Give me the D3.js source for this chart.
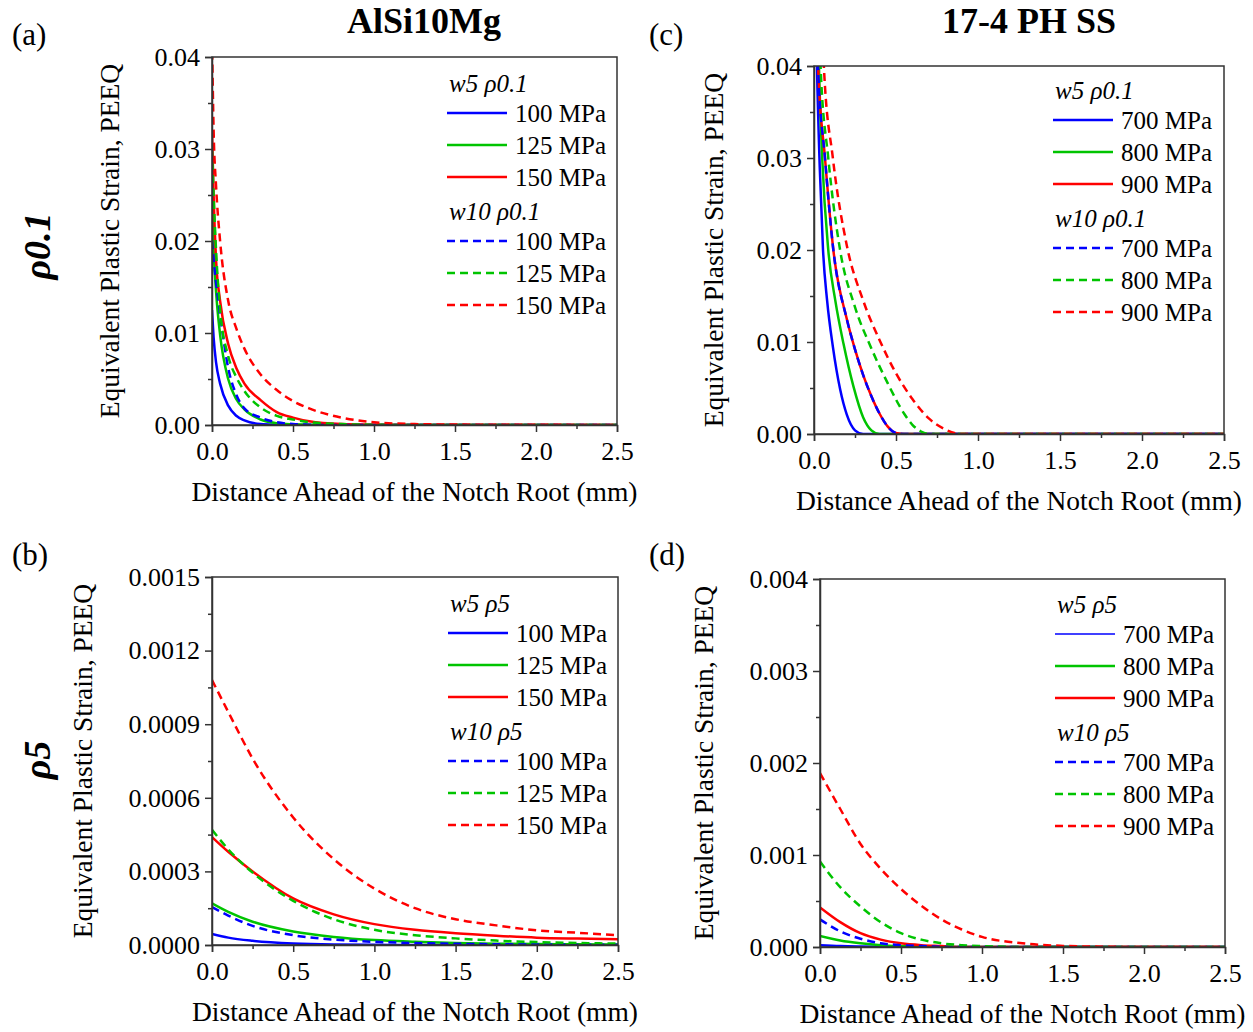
<!DOCTYPE html>
<html>
<head>
<meta charset="utf-8">
<script src="https://cdn.jsdelivr.net/npm/d3@7"></script>
<style>
  body { margin: 0; background: #fff; }
  text { font-family: "Liberation Serif", "Times New Roman", serif; fill: #000; }
</style>
</head>
<body>
<svg id="chart" width="1253" height="1032"></svg>
<script>
// ---------- data ----------
const xTicks = [0, 0.5, 1, 1.5, 2, 2.5];
const xMinor = [0.25, 0.75, 1.25, 1.75, 2.25];

const alStress = ["100 MPa", "125 MPa", "150 MPa"];
const ssStress = ["700 MPa", "800 MPa", "900 MPa"];
const colors = ["#0000ff", "#00c400", "#ff0000"];

// (a) AlSi10Mg, rho 0.1
const distA = [0, 0.01, 0.025, 0.05, 0.1, 0.15, 0.2, 0.3, 0.4, 0.5, 0.6, 0.8, 1.0, 1.25, 1.5, 2.0, 2.5];
const aW5 = [
  [0.0125, 0.0095, 0.0068, 0.0045, 0.0021, 0.001, 0.0005, 0.0001, 0.00003, 0, 0, 0, 0, 0, 0, 0, 0],
  [0.024, 0.019, 0.0145, 0.0098, 0.005, 0.0028, 0.0017, 0.0006, 0.0002, 0.00007, 0.00002, 0, 0, 0, 0, 0, 0],
  [0.032, 0.025, 0.018, 0.0135, 0.0088, 0.0062, 0.0045, 0.0027, 0.0014, 0.0008, 0.0004, 0.0001, 0.00003, 0, 0, 0, 0]
];
const aW10 = [
  [0.020, 0.018, 0.0155, 0.012, 0.0062, 0.0033, 0.0018, 0.0008, 0.0003, 0.0001, 0.00004, 0, 0, 0, 0, 0, 0],
  [0.030, 0.025, 0.019, 0.0125, 0.0075, 0.0052, 0.0037, 0.0019, 0.001, 0.0006, 0.0003, 0.0001, 0.00003, 0, 0, 0, 0],
  [0.042, 0.032, 0.026, 0.020, 0.0135, 0.0105, 0.0083, 0.0055, 0.0038, 0.0026, 0.0018, 0.0008, 0.0003, 0.0001, 0.00005, 0.00002, 0.00001]
];

// (b) AlSi10Mg, rho 5
const distB = [0, 0.1, 0.25, 0.5, 0.75, 1.0, 1.25, 1.5, 1.75, 2.0, 2.25, 2.5];
const bW5 = [
  [0.000045, 0.00003, 0.000017, 0.000006, 0.000002, 0.000001, 0, 0, 0, 0, 0, 0],
  [0.00017, 0.000135, 0.000095, 0.000055, 0.000033, 0.00002, 0.000013, 0.000008, 0.000005, 0.000004, 0.000003, 0.000002],
  [0.00044, 0.00038, 0.0003, 0.00019, 0.000125, 0.000085, 0.000062, 0.000048, 0.000038, 0.00003, 0.000026, 0.000023]
];
const bW10 = [
  [0.000155, 0.00012, 0.000078, 0.00004, 0.000022, 0.000013, 0.000008, 0.000005, 0.000003, 0.000002, 0.0000015, 0.000001],
  [0.00047, 0.00039, 0.000295, 0.00018, 0.000105, 0.000062, 0.00004, 0.000027, 0.000018, 0.000012, 0.000008, 0.000006],
  [0.00108, 0.00095, 0.00076, 0.00052, 0.00035, 0.00023, 0.00015, 0.000105, 0.00008, 0.00006, 0.00005, 0.00004]
];

// (c) 17-4 PH SS, rho 0.1 -- each curve has its own distance points
const cW5Dist = [
  [0, 0.018, 0.035, 0.055, 0.08, 0.115, 0.16, 0.2, 0.25, 0.3, 2.5],
  [0, 0.03, 0.05, 0.087, 0.13, 0.18, 0.24, 0.3, 0.35, 0.4, 2.5],
  [0, 0.025, 0.067, 0.118, 0.2, 0.25, 0.3, 0.35, 0.4, 0.45, 0.5, 0.55, 2.5]
];
const cW5 = [
  [0.06, 0.04, 0.029, 0.02, 0.0145, 0.0095, 0.0048, 0.0021, 0.0004, 0, 0],
  [0.07, 0.04, 0.03, 0.02, 0.0145, 0.0098, 0.0052, 0.0018, 0.0004, 0, 0],
  [0.08, 0.04, 0.03, 0.02, 0.0125, 0.0092, 0.0064, 0.0041, 0.0022, 0.0008, 0.0001, 0, 0]
];
const cW10Dist = [
  [0, 0.025, 0.067, 0.118, 0.2, 0.25, 0.3, 0.35, 0.4, 0.45, 0.5, 0.55, 2.5],
  [0, 0.04, 0.087, 0.159, 0.25, 0.35, 0.45, 0.55, 0.6, 0.65, 0.7, 2.5],
  [0, 0.06, 0.115, 0.2, 0.3, 0.4, 0.5, 0.6, 0.7, 0.8, 0.9, 2.5]
];
const cW10 = [
  [0.08, 0.04, 0.03, 0.02, 0.0125, 0.0092, 0.0064, 0.0041, 0.0022, 0.0008, 0.0001, 0, 0],
  [0.09, 0.04, 0.03, 0.02, 0.0138, 0.0093, 0.0055, 0.0022, 0.001, 0.0003, 0, 0],
  [0.1, 0.04, 0.03, 0.0205, 0.0145, 0.0102, 0.0066, 0.0038, 0.0017, 0.0005, 0, 0]
];

// (d) 17-4 PH SS, rho 5
const distD = [0, 0.125, 0.25, 0.375, 0.5, 0.625, 0.75, 0.875, 1.0, 1.25, 1.5, 1.75, 2.0, 2.5];
const dW5 = [
  [0.00002, 0.00001, 0.000005, 0.000002, 0, 0, 0, 0, 0, 0, 0, 0, 0, 0],
  [0.00012, 0.00007, 0.00004, 0.00002, 0.00001, 0.000004, 0, 0, 0, 0, 0, 0, 0, 0],
  [0.00043, 0.00027, 0.00015, 0.00008, 0.00004, 0.00002, 0.00001, 0, 0, 0, 0, 0, 0, 0]
];
const dW10 = [
  [0.0003, 0.00017, 0.00009, 0.00004, 0.00002, 0.00001, 0.000003, 0, 0, 0, 0, 0, 0, 0],
  [0.00093, 0.00065, 0.00044, 0.00027, 0.00015, 0.00008, 0.00004, 0.00002, 0.00001, 0, 0, 0, 0, 0],
  [0.00189, 0.0015, 0.00112, 0.00085, 0.00063, 0.00045, 0.0003, 0.00019, 0.00011, 0.00004, 0.000012, 0.000003, 0, 0]
];

const yTicksA = [0, 0.01, 0.02, 0.03, 0.04];
const yTicksB = [0, 0.0003, 0.0006, 0.0009, 0.0012, 0.0015];
const yTicksD = [0, 0.001, 0.002, 0.003, 0.004];

// ---------- layout ----------
const same = d => [d, d, d];
const panels = [
  {key: "a", box: [212, 617, 57, 425], yTicks: yTicksA, fmt: ".2f",
   d5: same(distA), d10: same(distA), w5: aW5, w10: aW10,
   stress: alStress, t5: "w5 ρ0.1", t10: "w10 ρ0.1", leg: [447, 92], yTitleX: 109, legBlueW: 2.5},
  {key: "b", box: [212, 618, 577, 945], yTicks: yTicksB, fmt: ".4f",
   d5: same(distB), d10: same(distB), w5: bW5, w10: bW10,
   stress: alStress, t5: "w5 ρ5", t10: "w10 ρ5", leg: [448, 612], yTitleX: 82, legBlueW: 2.5},
  {key: "c", box: [814, 1224, 66, 434], yTicks: yTicksA, fmt: ".2f",
   d5: cW5Dist, d10: cW10Dist, w5: cW5, w10: cW10,
   stress: ssStress, t5: "w5 ρ0.1", t10: "w10 ρ0.1", leg: [1053, 99], yTitleX: 713, legBlueW: 2.5},
  {key: "d", box: [820, 1225, 579, 947], yTicks: yTicksD, fmt: ".3f",
   d5: same(distD), d10: same(distD), w5: dW5, w10: dW10,
   stress: ssStress, t5: "w5 ρ5", t10: "w10 ρ5", leg: [1055, 613], yTitleX: 703, legBlueW: 1.5}
];

const svg = d3.select("#chart");
svg.append("rect").attr("width", 1253).attr("height", 1032).attr("fill", "#fff");

panels.forEach(p => {
  const [l, r, t, b] = p.box;
  const x = d3.scaleLinear().domain([0, 2.5]).range([l, r]);
  const yMax = p.yTicks[p.yTicks.length - 1];
  const y = d3.scaleLinear().domain([0, yMax]).range([b, t]);
  const step = p.yTicks[1] - p.yTicks[0];
  const yMinor = p.yTicks.slice(0, -1).map(v => v + step / 2);

  const g = svg.append("g");

  g.append("clipPath").attr("id", "clip-" + p.key)
   .append("rect").attr("x", l).attr("y", t).attr("width", r - l).attr("height", b - t);

  // curves: solid (w5) then dashed (w10)
  const line = d3.line()
                 .x(d => x(d[0]))
                 .y(d => y(d[1]))
                 .curve(d3.curveMonotoneX);
  const plot = g.append("g").attr("clip-path", `url(#clip-${p.key})`);
  p.w5.forEach((s, i) => {
    plot.append("path").attr("d", line(d3.zip(p.d5[i], s))).attr("fill", "none")
        .attr("stroke", colors[i]).attr("stroke-width", 2.5);
  });
  p.w10.forEach((s, i) => {
    plot.append("path").attr("d", line(d3.zip(p.d10[i], s))).attr("fill", "none")
        .attr("stroke", colors[i]).attr("stroke-width", 2.5)
        .attr("stroke-dasharray", "8,5");
  });

  // frame
  g.append("rect").attr("x", l).attr("y", t).attr("width", r - l).attr("height", b - t)
   .attr("fill", "none").attr("stroke", "#333").attr("stroke-width", 1.5);

  // axes
  g.append("g").attr("transform", `translate(0,${b})`)
    .call(d3.axisBottom(x).tickValues(xTicks).tickSize(7).tickPadding(9.5)
            .tickFormat(d3.format(".1f")));
  g.append("g").attr("transform", `translate(0,${b})`)
    .call(d3.axisBottom(x).tickValues(xMinor).tickSize(4).tickFormat(""))
    .select(".domain").remove();
  g.append("g").attr("transform", `translate(${l},0)`)
    .call(d3.axisLeft(y).tickValues(p.yTicks).tickSize(7).tickPadding(5)
            .tickFormat(d3.format(p.fmt)));
  g.append("g").attr("transform", `translate(${l},0)`)
    .call(d3.axisLeft(y).tickValues(yMinor).tickSize(4).tickFormat(""))
    .select(".domain").remove();

  g.selectAll(".domain").attr("stroke", "#333").attr("stroke-width", 1.5);
  g.selectAll(".tick line").attr("stroke", "#333").attr("stroke-width", 1.5);
  g.selectAll(".tick text").attr("font-size", 26)
   .attr("font-family", "'Liberation Serif', 'Times New Roman', serif").attr("fill", "#000");

  // axis titles
  g.append("text").attr("x", (l + r) / 2).attr("y", b + 76)
   .attr("text-anchor", "middle").attr("font-size", 27.5)
   .text("Distance Ahead of the Notch Root (mm)");
  g.append("text")
   .attr("transform", `translate(${p.yTitleX},${(t + b) / 2}) rotate(-90)`)
   .attr("text-anchor", "middle").attr("dy", "0.35em").attr("font-size", 27.5)
   .text("Equivalent Plastic Strain, PEEQ");

  // legend
  const [lx, ly] = p.leg;
  const leg = g.append("g");
  const groups = [[p.t5, null, 0], [p.t10, "8,5", 128]];
  groups.forEach(([title, dash, off]) => {
    leg.append("text").attr("x", lx + 2).attr("y", ly + off)
       .attr("font-size", 25).attr("font-style", "italic").text(title);
    p.stress.forEach((s, i) => {
      const yy = ly + off + 21 + i * 32;
      const w = (!dash && i === 0) ? p.legBlueW : 2.5;
      leg.append("line").attr("x1", lx).attr("x2", lx + 60).attr("y1", yy).attr("y2", yy)
         .attr("stroke", colors[i]).attr("stroke-width", w)
         .attr("stroke-dasharray", dash);
      leg.append("text").attr("x", lx + 68).attr("y", yy).attr("dy", "0.35em")
         .attr("font-size", 25).text(s);
    });
  });
});

// column titles, panel letters, row labels
const heads = [["AlSi10Mg", 424], ["17-4 PH SS", 1029]];
heads.forEach(([s, cx]) => {
  svg.append("text").attr("x", cx).attr("y", 33).attr("text-anchor", "middle")
     .attr("font-size", 36).attr("font-weight", "bold").text(s);
});
const letters = [["(a)", 12, 45], ["(c)", 649, 45], ["(b)", 12, 565], ["(d)", 649, 565]];
letters.forEach(([s, lx, ly]) => {
  svg.append("text").attr("x", lx).attr("y", ly).attr("font-size", 31).text(s);
});
const rows = [["ρ0.1", 246], ["ρ5", 760]];
rows.forEach(([s, cy]) => {
  svg.append("text").attr("transform", `translate(37,${cy}) rotate(-90)`)
     .attr("text-anchor", "middle").attr("dy", "0.35em")
     .attr("font-size", 38).attr("font-weight", "bold").attr("font-style", "italic").text(s);
});
</script>
</body>
</html>
